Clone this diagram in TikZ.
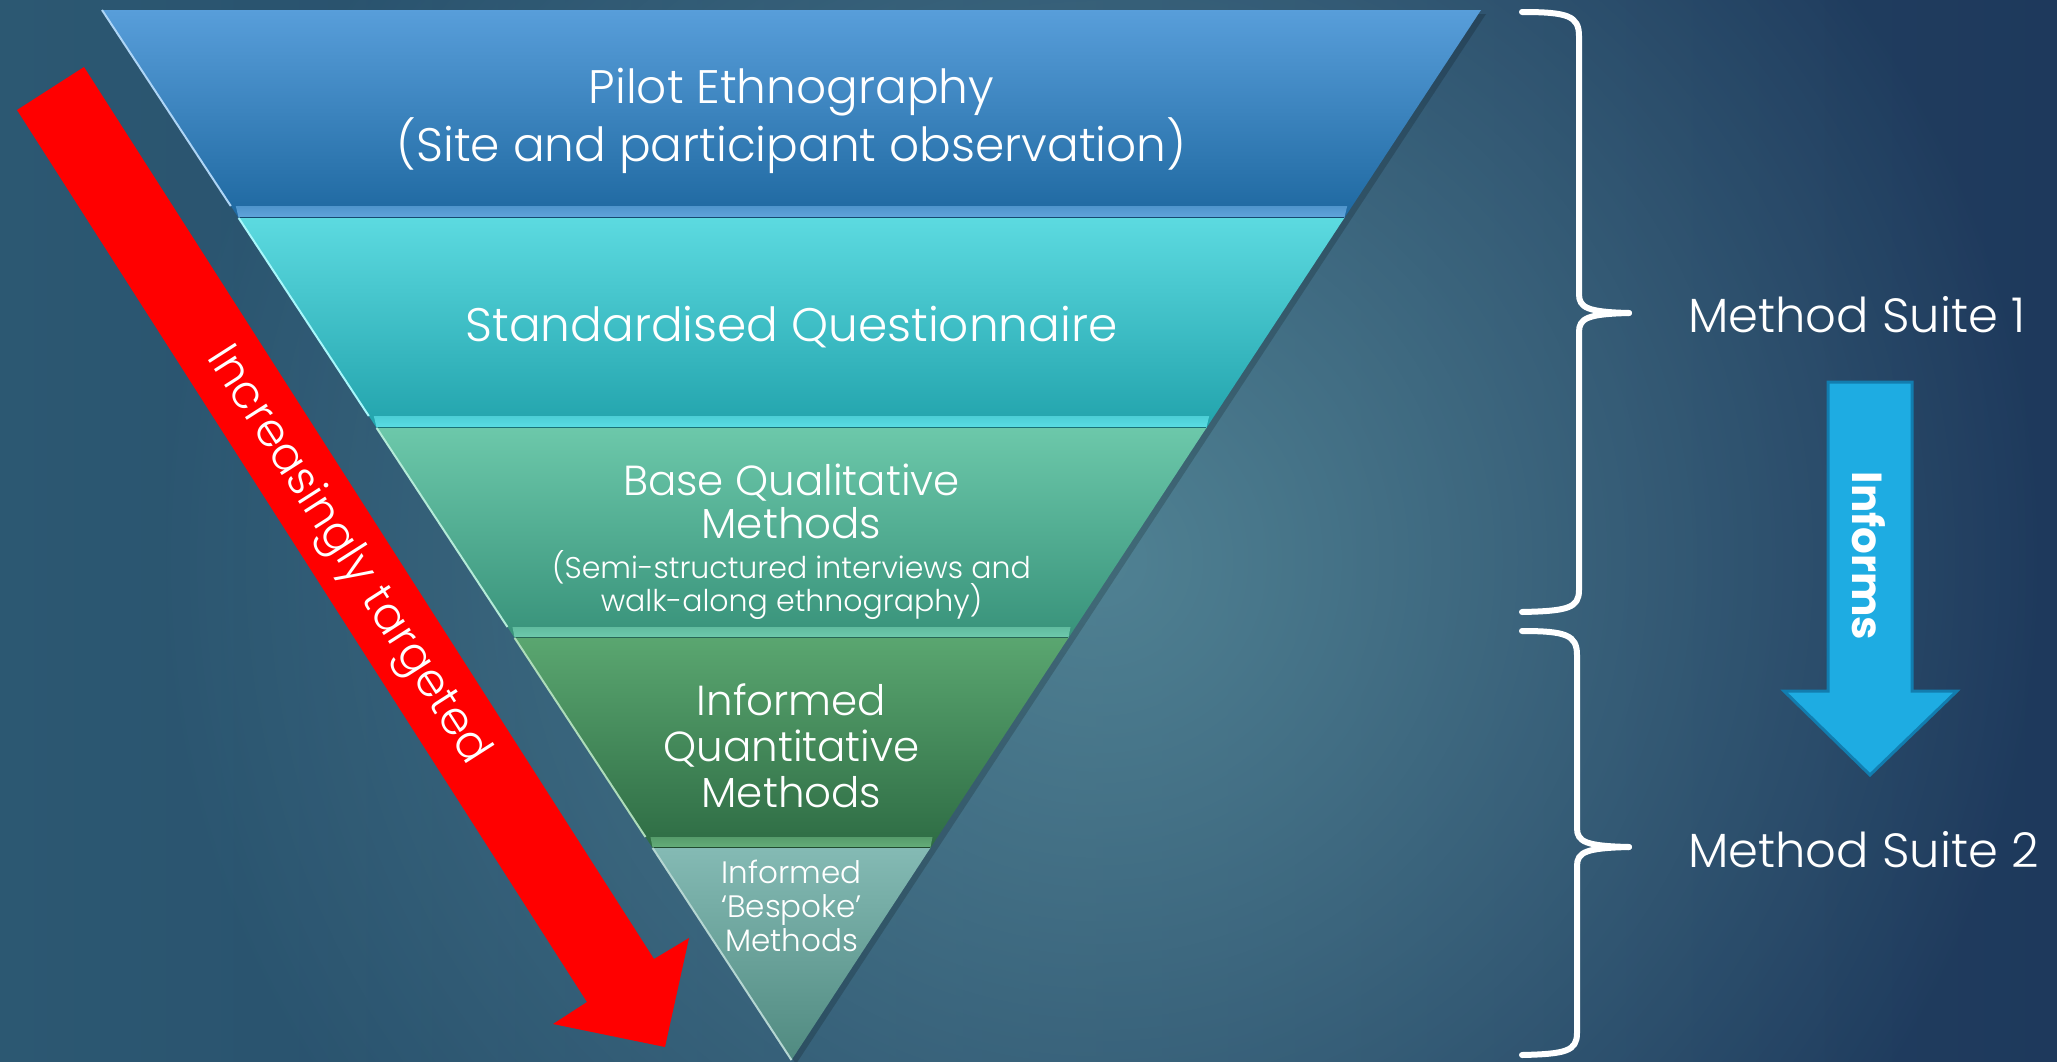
\documentclass[tikz,border=0pt]{standalone}
\usepackage{fontspec}
\setmainfont{Poppins}[UprightFont={* Light}, BoldFont={* Bold}]
\usetikzlibrary{fadings}
\tikzfading[name=bgglow, inner color=transparent!0, outer color=transparent!100]
\definecolor{bgL}{RGB}{44,88,114}
\definecolor{bgR}{RGB}{30,57,92}
\definecolor{bgC}{RGB}{88,140,155}
\definecolor{bAt}{RGB}{88,158,218}
\definecolor{bAb}{RGB}{30,104,160}
\definecolor{bAs}{RGB}{120,185,240}
\definecolor{bBt}{RGB}{92,218,224}
\definecolor{bBb}{RGB}{34,163,172}
\definecolor{bBs}{RGB}{110,242,248}
\definecolor{bCt}{RGB}{108,200,170}
\definecolor{bCb}{RGB}{56,146,122}
\definecolor{bCs}{RGB}{130,222,190}
\definecolor{bDt}{RGB}{90,166,112}
\definecolor{bDb}{RGB}{46,108,68}
\definecolor{bDs}{RGB}{120,196,140}
\definecolor{bEt}{RGB}{132,186,180}
\definecolor{bEb}{RGB}{80,138,128}
\definecolor{infblue}{RGB}{30,172,226}
\definecolor{infedge}{RGB}{18,125,175}
\definecolor{redarrow}{RGB}{255,0,0}

% #1 top y, #2 strip top y, #3 bottom y, #4 top colour, #5 bottom colour, #6 strip colour
\newcommand\pyrband[6]{%
  \shade[top color=#4, bottom color=#5]
    ({102+0.657143*(#1-10)},#1) -- ({1481-0.657143*(#1-10)},#1) --
    ({1481-0.657143*(#3-10)},#3) -- ({102+0.657143*(#3-10)},#3) -- cycle;
  \shade[top color=#6!55!#5, middle color=#6!70!white, bottom color=#6!75!#5]
    ({102+0.657143*(#2-10)+5},#2) -- ({1481-0.657143*(#2-10)-5},#2) --
    ({1481-0.657143*(#3-10)},#3) -- ({102+0.657143*(#3-10)},#3) -- cycle;
  \draw[#5!70!black, line width=1.2]
    ({102+0.657143*(#3-10)},#3) -- ({1481-0.657143*(#3-10)},#3);
  \draw[#6!60!white, line width=2]
    ({102+0.657143*(#1-10)},#1) -- ({102+0.657143*(#2-10)},#2);
}

\begin{document}
\begin{tikzpicture}[x=1pt,y=-1pt,
  lbl/.style={text=white, align=center, inner sep=0pt},
  brace/.style={draw=white, line width=6, line cap=round, line join=round}]
\useasboundingbox (0,0) rectangle (2057,1061);
% background
\shade[left color=bgL, right color=bgR] (0,0) rectangle (2057,1061);
\fill[bgC, path fading=bgglow, fill opacity=0.85] (1100,560) circle (950);

% pyramid shadow
\fill[black, opacity=0.18] (106,14) -- (1486,14) -- (796,1064) -- cycle;

% bands
\pyrband{10}{206}{218}{bAt}{bAb}{bAs}
\pyrband{218}{416}{428}{bBt}{bBb}{bBs}
\pyrband{428}{627}{638}{bCt}{bCb}{bCs}
\pyrband{638}{837}{848}{bDt}{bDb}{bDs}
\shade[top color=bEt, bottom color=bEb]
  ({102+0.657143*(848-10)},848) -- ({1481-0.657143*(848-10)},848) -- (791.5,1060) -- cycle;
\draw[bEt!60!white, line width=2] ({102+0.657143*(848-10)},848) -- (791.5,1060);

% band texts
\node[lbl, font=\fontsize{47}{53}\selectfont] (pilot) at (791.5,121)
  {Pilot Ethnography\\(Site and participant observation)};
\node[lbl, font=\fontsize{47}{53}\selectfont] (quest) at (791.5,327)
  {Standardised Questionnaire};
\node[lbl, font=\fontsize{42}{43}\selectfont] (baseq) at (791.5,501)
  {Base Qualitative\\Methods};
\node[lbl, font=\fontsize{30}{34}\selectfont] (baseqd) at (791.5,585)
  {(Semi-structured interviews and\\walk-along ethnography)};
\node[lbl, font=\fontsize{42}{46}\selectfont] (quant) at (791.5,746)
  {Informed\\Quantitative\\Methods};
\node[lbl, font=\fontsize{31}{34}\selectfont] (bespoke) at (791.5,906)
  {Informed\\`Bespoke'\\Methods};

% red arrow
\fill[redarrow] (17,110) -- (84,67) -- (654,959) -- (689,938) -- (665,1047)
  -- (553,1024) -- (587,1002) -- cycle;
\node[lbl, rotate=-57.4, font=\fontsize{46}{50}\selectfont] (target) at (347,556)
  {Increasingly targeted};

% braces
\draw[brace] (1522,12) .. controls (1568,12) and (1579,16) .. (1579,36)
  -- (1579,294) .. controls (1579,308) and (1588,312) .. (1629,313);
\draw[brace] (1629,313) .. controls (1588,314) and (1579,318) .. (1579,332)
  -- (1579,590) .. controls (1579,608) and (1568,611) .. (1522,612);
\draw[brace] (1522,631) .. controls (1566,631) and (1577,635) .. (1577,655)
  -- (1577,828) .. controls (1577,842) and (1586,846) .. (1629,847);
\draw[brace] (1629,847) .. controls (1586,848) and (1577,852) .. (1577,866)
  -- (1577,1033) .. controls (1577,1051) and (1566,1054) .. (1522,1055);

\node[lbl, anchor=west, font=\fontsize{48}{52}\selectfont] (suite1) at (1688,315) {Method Suite 1};
\node[lbl, anchor=west, font=\fontsize{48}{52}\selectfont] (suite2) at (1688,850) {Method Suite 2};

% informs arrow
\filldraw[fill=infblue, draw=infedge, line width=3, line join=miter]
  (1828,382) -- (1912,382) -- (1912,691) -- (1957,691) -- (1870,775)
  -- (1784,691) -- (1828,691) -- cycle;
\node[lbl, rotate=-90, font=\fontsize{42}{44}\selectfont\bfseries] (informs) at (1869,556) {Informs};
\end{tikzpicture}
\end{document}
